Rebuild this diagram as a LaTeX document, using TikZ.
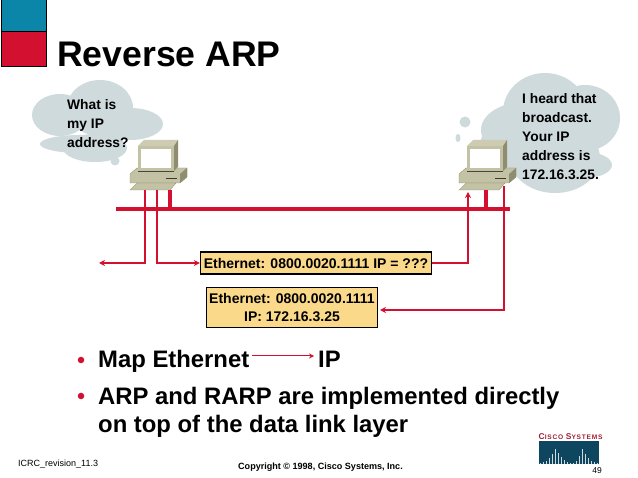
\documentclass[tikz,border=0pt]{standalone}
\usepackage{fontspec}
\setmainfont{Liberation Sans}
\usepackage{xcolor}
\usetikzlibrary{arrows.meta}
\definecolor{slideblue}{HTML}{0C86A8}
\definecolor{slidered}{HTML}{D3102F}
\definecolor{cloudgrey}{HTML}{CFDADD}
\definecolor{boxyellow}{HTML}{FBD98A}
\definecolor{pcbody}{HTML}{C4C2A4}
\definecolor{pcdark}{HTML}{8F8D70}
\definecolor{ciscoteal}{HTML}{0F465F}
\definecolor{ciscored}{HTML}{A02035}
\tikzset{
  wire/.style={slidered,line width=1.4pt},
  tap/.style={slidered,line width=3.4pt},
  tipped/.style={wire,-{Stealth[length=6pt,width=6pt,open]}},
  framebox/.style={draw=black,line width=1.3pt,fill=boxyellow,inner sep=0pt,align=center,font=\bfseries\fontsize{14}{17.5}\selectfont},
  cloudtext/.style={anchor=north west,inner sep=0pt,align=left,font=\bfseries\fontsize{13.8}{19.2}\selectfont},
  bodytext/.style={anchor=base west,inner sep=0pt,align=left,font=\bfseries\fontsize{23.85}{28}\selectfont},
  bulletdot/.style={circle,fill=slidered,inner sep=0pt,minimum size=6.5pt},
  pc/.pic={
    \fill[pcbody,draw=pcdark,line width=.3pt] (0,-16) -- (7,-22) -- (57,-22) -- (57,-13) -- (50,-7) -- (0,-7) -- cycle;
    \fill[pcdark] (50,-16) -- (57,-22) -- (57,-13) -- (50,-7) -- cycle;
    \draw[pcdark!40!black,line width=.8pt] (36,-12) -- (47,-12);
    \fill[pcbody,draw=pcdark,line width=.3pt] (0,0) -- (7,-7) -- (46,-7) -- (40,0) -- cycle;
    \fill[pcbody!85!white] (8,-44) -- (14,-50) -- (48,-50) -- (44,-44) -- cycle;
    \fill[pcdark] (44,-44) -- (48,-50) -- (48,-23) -- (44,-19) -- cycle;
    \fill[pcbody] (8,-44) rectangle (44,-19);
    \fill[white] (11,-41) rectangle (41,-22);
    \draw[pcdark!50!black,line width=.8pt] (8,-18.5) -- (44,-18.5);
  }
}
\begin{document}
\begin{tikzpicture}[x=1pt,y=-1pt]
\useasboundingbox[fill=white] (0,0) rectangle (638,478);
% corner squares
\draw[fill=slideblue,line width=1pt] (1,0) rectangle (46,32);
\draw[fill=slidered,line width=1pt] (1,32) rectangle (46,67);
\node[anchor=base west,inner sep=0pt,font=\bfseries\fontsize{35.6}{35}\selectfont] (title) at (57,67) {Reverse ARP};
% clouds
\fill[cloudgrey] (100,108) ellipse[x radius=33,y radius=28];
\fill[cloudgrey] (60,115) ellipse[x radius=28,y radius=21];
\fill[cloudgrey] (130,124) ellipse[x radius=33,y radius=16];
\fill[cloudgrey] (80,144) ellipse[x radius=40,y radius=9];
\fill[cloudgrey] (95,148) ellipse[x radius=32,y radius=14];
\fill[cloudgrey] (115,161) circle[radius=4.5];
\fill[cloudgrey] (545,112) ellipse[x radius=42,y radius=39];
\fill[cloudgrey] (585,118) ellipse[x radius=35,y radius=33];
\fill[cloudgrey] (525,130) ellipse[x radius=44,y radius=28];
\fill[cloudgrey] (510,145) ellipse[x radius=30,y radius=24];
\fill[cloudgrey] (555,158) ellipse[x radius=45,y radius=35];
\fill[cloudgrey] (585,165) ellipse[x radius=27,y radius=13];
\fill[cloudgrey] (465,122) circle[radius=5.5];
\fill[cloudgrey] (458,138) ellipse[x radius=2.5,y radius=4];
\node[cloudtext] (askText) at (67,99) {What is\\my IP\\address?};
\node[cloudtext] (replyText) at (522,93) {I heard that\\broadcast.\\Your IP\\address is\\172.16.3.25.};
% computers
\pic at (130,190) {pc};
\pic at (459,190) {pc};
% boxes
\node[framebox,minimum width=231pt,minimum height=22pt] (request) at (316,263) {Ethernet: 0800.0020.1111 IP = ???};
\node[framebox,minimum width=171pt,minimum height=40pt] (reply) at (292,307.5) {Ethernet: 0800.0020.1111\\IP: 172.16.3.25};
% bus and connectors
\coordinate (busL) at (116,209);
\coordinate (busR) at (510,209);
\coordinate (farLeft) at (99,263);
\coordinate (pcOutA) at (145,190);
\coordinate (pcOutB) at (157,190);
\coordinate (pcInA) at (468,192);
\coordinate (pcOutC) at (504,186);
\coordinate (replyTip) at (380,310);
\draw[slidered,line width=3.6pt] (busL) -- (busR);
\draw[tap] (170,190) -- (170,209);
\draw[tap] (486,190) -- (486,209);
\draw[tipped] (pcOutA) |- (farLeft);
\draw[tipped] (pcOutB) |- (request.west);
\draw[tipped] (request.east) -| (pcInA);
\draw[tipped] (pcOutC) |- (replyTip);
% bullets
\node[bulletdot] (dotA) at (81,360) {};
\node[bulletdot] (dotB) at (81,396) {};
\node[bodytext] (mapA) at (98,368) {Map Ethernet};
\node[bodytext] (mapB) at (318,368) {IP};
\coordinate (mapTail) at (252,356);
\coordinate (mapTip) at (314,356);
\draw[wire,line width=1pt,-{Stealth[length=5pt,width=5pt]}] (mapTail) -- (mapTip);
\node[bodytext] (layerA) at (98,405) {ARP and RARP are implemented directly};
\node[bodytext] (layerB) at (98,433) {on top of the data link layer};
% footer
\node[anchor=base west,inner sep=0pt,font=\fontsize{9}{9}\selectfont] (course) at (18,467) {ICRC\_revision\_11.3};
\node[anchor=base west,inner sep=0pt,font=\bfseries\fontsize{9.05}{9}\selectfont] (copyright) at (238,470) {Copyright © 1998, Cisco Systems, Inc.};
\node[anchor=base east,inner sep=0pt,font=\fontsize{8.5}{9}\selectfont] (page) at (602,474) {49};
% logo
\node[anchor=base west,inner sep=0pt,text=ciscored,font=\bfseries\fontsize{8.4}{8}\selectfont\addfontfeature{LetterSpace=12}] (ciscoName) at (538.5,440) {C\fontsize{6.6}{8}\selectfont ISCO \fontsize{8.4}{8}\selectfont S\fontsize{6.6}{8}\selectfont YSTEMS};
\fill[ciscoteal] (539,441) rectangle (599,464);
\foreach \x/\h in {0/1,3/2,6/3,9/6,12/10,15/15,18/11,21/7,24/4,27/2,30/1,33/1,36/3,39/8,42/15,45/10,48/6,51/3,54/2,57/1} \draw[cloudgrey,line width=.9pt] ({540+\x},464) -- ({540+\x},{464-\h});
\end{tikzpicture}
\end{document}
